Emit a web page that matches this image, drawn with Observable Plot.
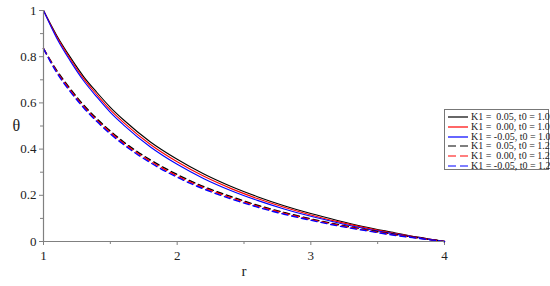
<!DOCTYPE html>
<html>
<head>
<meta charset="utf-8">
<script src="https://cdn.jsdelivr.net/npm/d3@7"></script>
<script src="https://cdn.jsdelivr.net/npm/@observablehq/plot@0.6"></script>
<style>
  html, body { margin: 0; padding: 0; background: #fff; }
  #wrap { position: relative; width: 550px; height: 286px; }
  #legend {
    position: absolute; left: 444px; top: 109px; width: 105px; height: 61px;
    border: 1px solid #777; background: #fff; box-sizing: border-box;
    font-family: "Liberation Serif", "DejaVu Serif", serif; font-size: 10px; color: #222;
  }
  .row { position: absolute; left: 0; height: 10px; line-height: 10px; white-space: pre; }
  .row svg { position: absolute; left: 3px; top: 0; }
  .row span { position: absolute; left: 26px; top: 0; }
</style>
</head>
<body>
<div id="wrap"><div id="chart"></div><div id="legend"></div></div>
<script>
const rVals = [1, 1.1, 1.2, 1.3, 1.4, 1.5, 1.6, 1.8, 2.0, 2.2, 2.4, 2.6, 2.8, 3.0, 3.2, 3.4, 3.6, 3.8, 4];

const solidK005 = [1, 0.891, 0.798, 0.714, 0.645, 0.581, 0.526, 0.431, 0.356, 0.292, 0.239, 0.194, 0.155, 0.121, 0.091, 0.064, 0.041, 0.019, 0];
const solidK000 = [1, 0.885, 0.790, 0.705, 0.635, 0.570, 0.515, 0.420, 0.345, 0.282, 0.230, 0.186, 0.148, 0.115, 0.086, 0.060, 0.038, 0.018, 0];
const solidKm005 = [1, 0.879, 0.782, 0.696, 0.625, 0.559, 0.504, 0.409, 0.334, 0.272, 0.221, 0.178, 0.141, 0.109, 0.081, 0.056, 0.035, 0.017, 0];

const dashK005 = [0.835, 0.740, 0.661, 0.591, 0.531, 0.478, 0.431, 0.353, 0.290, 0.237, 0.195, 0.157, 0.126, 0.098, 0.074, 0.052, 0.033, 0.016, 0];
const dashK000 = [0.835, 0.735, 0.655, 0.585, 0.525, 0.472, 0.425, 0.347, 0.284, 0.232, 0.190, 0.153, 0.122, 0.095, 0.071, 0.050, 0.031, 0.015, 0];
const dashKm005 = [0.835, 0.730, 0.649, 0.579, 0.519, 0.466, 0.419, 0.341, 0.278, 0.227, 0.185, 0.149, 0.118, 0.092, 0.068, 0.048, 0.029, 0.014, 0];

const seriesLabels = ["K1 =  0.05, t0 = 1.0", "K1 =  0.00, t0 = 1.0", "K1 = -0.05, t0 = 1.0",
                      "K1 =  0.05, t0 = 1.2", "K1 =  0.00, t0 = 1.2", "K1 = -0.05, t0 = 1.2"];
const seriesColors = ["#000000", "#ff0000", "#0000ff", "#000000", "#ff0000", "#0000ff"];
const seriesDashed = [false, false, false, true, true, true];
const seriesValues = [solidK005, solidK000, solidKm005, dashK005, dashK000, dashKm005];

const xMajor = [1, 2, 3, 4];
const xMinor = [1.5, 2.5, 3.5];
const yMajor = [0, 0.2, 0.4, 0.6, 0.8, 1];
const yMinor = [0.1, 0.3, 0.5, 0.7, 0.9];

const axisGray = "#808080";
const font = '"Liberation Serif", "DejaVu Serif", serif';

const lineMarks = seriesValues.map((vals, i) =>
  Plot.line(rVals.map((r, j) => ({r, t: vals[j]})), {
    x: "r", y: "t", stroke: seriesColors[i], strokeWidth: seriesDashed[i] ? 1.4 : 1.1,
    strokeDasharray: seriesDashed[i] ? "6,4" : null, curve: "monotone-x"
  })
);

const chart = Plot.plot({
  width: 550, height: 286,
  marginLeft: 43, marginRight: 106, marginTop: 10, marginBottom: 45,
  style: {fontSize: "13px", color: "#222", background: "#fff"},
  x: {domain: [1, 4]},
  y: {domain: [0, 1]},
  marks: [
    Plot.axisX(xMajor, {tickSize: 4, tickPadding: 5, stroke: axisGray, fontSize: 13, tickFormat: d => String(d), label: null}),
    Plot.axisX(xMinor, {tickSize: 3, stroke: axisGray, text: null, label: null}),
    Plot.axisY(yMajor, {tickSize: 4, tickPadding: 3, stroke: axisGray, fontSize: 13, tickFormat: d => String(d), label: null}),
    Plot.axisY(yMinor, {tickSize: 3, stroke: axisGray, text: null, label: null}),
    ...lineMarks,
    Plot.ruleY([0], {stroke: axisGray, strokeWidth: 1.2}),
    Plot.ruleX([1], {stroke: axisGray, strokeWidth: 1.2}),
    Plot.text(["r"], {frameAnchor: "bottom", dy: 34, fontSize: 15}),
    Plot.text(["θ"], {frameAnchor: "left", dx: -31, fontSize: 16})
  ]
});
chart.style.fontFamily = font;
chart.querySelectorAll("text, g").forEach(el => {
  el.style.fontFamily = font;
  el.setAttribute("font-family", font);
});
document.getElementById("chart").appendChild(chart);

const legend = document.getElementById("legend");
seriesLabels.forEach((lab, i) => {
  const row = document.createElement("div");
  row.className = "row";
  row.style.top = (2 + i * 9.8) + "px";
  const dash = seriesDashed[i] ? 'stroke-dasharray="8,4"' : "";
  row.innerHTML = `<svg width="22" height="10"><line x1="0" y1="5" x2="20" y2="5" stroke="${seriesColors[i]}" stroke-width="1.2" ${dash}/></svg><span>${lab}</span>`;
  legend.appendChild(row);
});
</script>
</body>
</html>
